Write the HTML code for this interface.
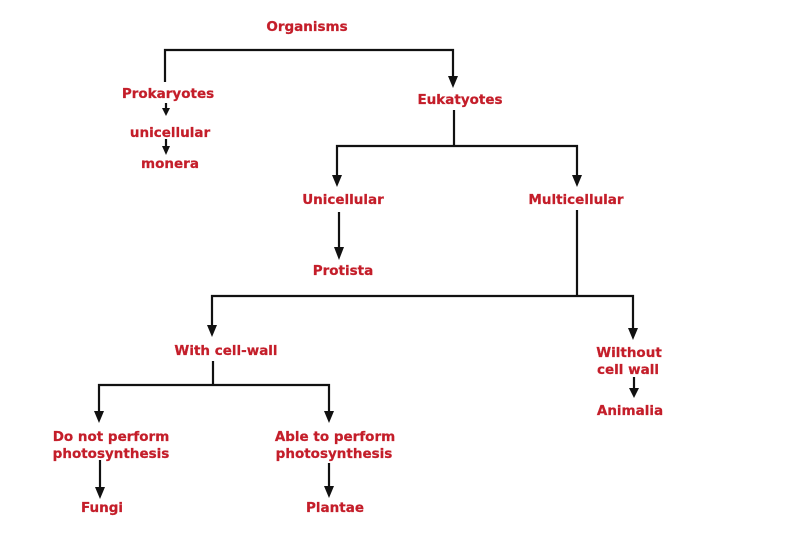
<!DOCTYPE html>
<html>
<head>
<meta charset="utf-8">
<style>
  html,body{margin:0;padding:0;background:#fff;}
  svg{display:block;}
  text{font-family:"DejaVu Sans","Liberation Sans",sans-serif;font-weight:bold;font-size:13.5px;fill:#c41e2a;stroke:#c41e2a;stroke-width:0.25;text-anchor:middle;}
</style>
</head>
<body>
<svg width="789" height="550" viewBox="0 0 789 550" xmlns="http://www.w3.org/2000/svg">
  <g fill="none" stroke="#111" stroke-width="2.2">
    <polyline points="165,82 165,50 453,50 453,80"/>
    <line x1="166" y1="103" x2="166" y2="111"/>
    <line x1="166" y1="139" x2="166" y2="148"/>
    <line x1="454" y1="110" x2="454" y2="146"/>
    <polyline points="337,180 337,146 577,146 577,180"/>
    <line x1="339" y1="212" x2="339" y2="252"/>
    <line x1="577" y1="210" x2="577" y2="296"/>
    <polyline points="212,330 212,296 633,296 633,333"/>
    <line x1="213" y1="361" x2="213" y2="385"/>
    <polyline points="99,416 99,385 329,385 329,416"/>
    <line x1="100" y1="460" x2="100" y2="492"/>
    <line x1="329" y1="463" x2="329" y2="491"/>
    <line x1="634" y1="377" x2="634" y2="391"/>
  </g>
  <g fill="#111">
    <polygon points="448,76 458,76 453,88"/>
    <polygon points="162,108 170,108 166,116"/>
    <polygon points="162,146 170,146 166,155"/>
    <polygon points="332,175 342,175 337,187"/>
    <polygon points="572,175 582,175 577,187"/>
    <polygon points="334,247 344,247 339,260"/>
    <polygon points="207,325 217,325 212,337"/>
    <polygon points="628,328 638,328 633,340"/>
    <polygon points="94,411 104,411 99,423"/>
    <polygon points="324,411 334,411 329,423"/>
    <polygon points="95,487 105,487 100,499"/>
    <polygon points="324,486 334,486 329,498"/>
    <polygon points="629,388 639,388 634,398"/>
  </g>
  <text x="307" y="31">Organisms</text>
  <text x="168" y="98">Prokaryotes</text>
  <text x="170" y="137">unicellular</text>
  <text x="170" y="168">monera</text>
  <text x="460" y="104">Eukatyotes</text>
  <text x="343" y="204">Unicellular</text>
  <text x="576" y="204">Multicellular</text>
  <text x="343" y="275">Protista</text>
  <text x="226" y="355">With cell-wall</text>
  <text x="629" y="357">Wilthout</text>
  <text x="628" y="374">cell wall</text>
  <text x="630" y="415">Animalia</text>
  <text x="111" y="441">Do not perform</text>
  <text x="111" y="458">photosynthesis</text>
  <text x="335" y="441">Able to perform</text>
  <text x="334" y="458">photosynthesis</text>
  <text x="102" y="512">Fungi</text>
  <text x="335" y="512">Plantae</text>
</svg>
</body>
</html>
